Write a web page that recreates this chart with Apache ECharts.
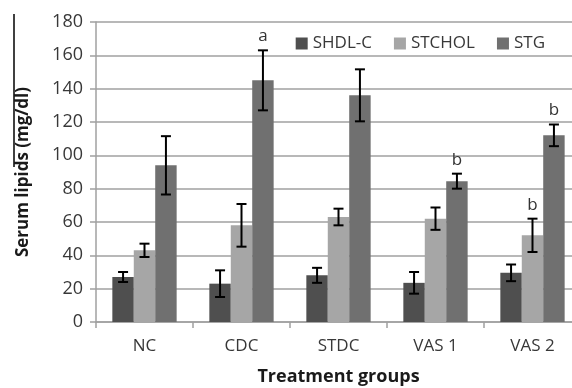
<!DOCTYPE html>
<html>
<head>
<meta charset="utf-8">
<script src="https://cdn.jsdelivr.net/npm/echarts@6/dist/echarts.min.js"></script>
<style>html,body{margin:0;padding:0;background:#fff}#c{width:572px;height:388px}</style>
</head>
<body>
<div id="c"></div>
<script>
var categories = ['NC', 'CDC', 'STDC', 'VAS 1', 'VAS 2'];
var seriesNames = ['SHDL-C', 'STCHOL', 'STG'];
var shdl = [27, 23, 28, 23.5, 29.5];
var stchol = [43, 58, 63, 62, 52];
var stg = [94, 145, 136, 84.5, 112];
var shdlErr = [3, 8, 4.5, 6.5, 5];
var stcholErr = [4, 12.8, 5, 6.7, 10];
var stgErr = [17.5, 18, 15.6, 4.5, 6.5];
var shdlMark = ['', '', '', '', ''];
var stcholMark = ['', '', '', '', 'b'];
var stgMark = ['', 'a', '', 'b', 'b'];
var yTicks = [0, 20, 40, 60, 80, 100, 120, 140, 160, 180];

var colors = ['#4f4f4f', '#a6a6a6', '#707070'];
var values = [shdl, stchol, stg];
var errs = [shdlErr, stcholErr, stgErr];
var marks = [shdlMark, stcholMark, stgMark];
var catGap = 0.337;
var font = 'Open Sans';

function errSeries(k) {
  var data = categories.map(function (c, i) {
    return [i, values[k][i] - errs[k][i], values[k][i] + errs[k][i], marks[k][i]];
  });
  return {
    type: 'custom',
    name: seriesNames[k] + ' err',
    silent: true,
    z: 5,
    encode: { x: 0, y: [1, 2] },
    data: data,
    renderItem: function (params, api) {
      var idx = api.value(0);
      var band = api.size([1, 0])[0];
      var bw = band * (1 - catGap) / 3;
      var off = (k - 1) * bw;
      var lo = api.coord([idx, api.value(1)]);
      var hi = api.coord([idx, api.value(2)]);
      var x = lo[0] + off;
      var cap = 5;
      var st = { stroke: '#000', lineWidth: 2 };
      var children = [
        { type: 'line', shape: { x1: x, y1: lo[1], x2: x, y2: hi[1] }, style: st },
        { type: 'line', shape: { x1: x - cap, y1: lo[1], x2: x + cap, y2: lo[1] }, style: st },
        { type: 'line', shape: { x1: x - cap, y1: hi[1], x2: x + cap, y2: hi[1] }, style: st }
      ];
      var m = data[params.dataIndex][3];
      if (m) {
        children.push({ type: 'text', style: { text: m, x: x, y: hi[1] - 14, align: 'center', verticalAlign: 'middle', fontSize: 17, fontFamily: font, fill: '#333' } });
      }
      return { type: 'group', children: children };
    }
  };
}

var series = [];
for (var k = 0; k < 3; k++) {
  series.push({
    type: 'bar',
    name: seriesNames[k],
    data: values[k],
    barGap: '0%',
    barCategoryGap: (catGap * 100) + '%',
    itemStyle: { color: colors[k] }
  });
}
for (var k2 = 0; k2 < 3; k2++) series.push(errSeries(k2));

var chart = echarts.init(document.getElementById('c'), null, { renderer: 'canvas' });
chart.setOption({
  animation: false,
  backgroundColor: '#fff',
  color: colors,
  textStyle: { fontFamily: font },
  grid: { left: 96, top: 22, right: -9, bottom: 66, containLabel: false, outerBoundsMode: 'none' },
  legend: {
    data: seriesNames,
    right: 22, top: 30,
    itemWidth: 12, itemHeight: 12, itemGap: 22,
    icon: 'rect',
    textStyle: { fontSize: 17, color: '#383838', fontFamily: font }
  },
  xAxis: {
    type: 'category',
    data: categories,
    name: 'Treatment groups',
    nameLocation: 'middle',
    nameGap: 46,
    nameTextStyle: { fontSize: 18, fontWeight: 'bold', color: '#1a1a1a', fontFamily: font },
    axisLine: { lineStyle: { color: '#a0a0a0', width: 1.5 } },
    axisTick: { show: true, length: 6, lineStyle: { color: '#a0a0a0', width: 1.5 } },
    axisLabel: { fontSize: 17, color: '#383838', margin: 16, fontFamily: font }
  },
  yAxis: {
    type: 'value',
    min: yTicks[0], max: yTicks[yTicks.length - 1], interval: yTicks[1] - yTicks[0],
    name: 'Serum lipids (mg/dl)',
    nameLocation: 'middle',
    nameGap: 64,
    nameRotate: 90,
    nameTextStyle: { fontSize: 17, fontWeight: 'bold', color: '#1a1a1a', fontFamily: font },
    axisLine: { show: true, lineStyle: { color: '#a0a0a0', width: 1.5 } },
    axisTick: { show: true, length: 6, lineStyle: { color: '#a0a0a0', width: 1.5 } },
    axisLabel: { fontSize: 18, color: '#383838', margin: 13, fontFamily: font },
    splitLine: { lineStyle: { color: '#a0a0a0', width: 1.5 } }
  },
  graphic: [{ type: 'line', shape: { x1: 14, y1: 14, x2: 14, y2: 167 }, style: { stroke: '#000', lineWidth: 1.5 } }],
  series: series
});
</script>
</body>
</html>
